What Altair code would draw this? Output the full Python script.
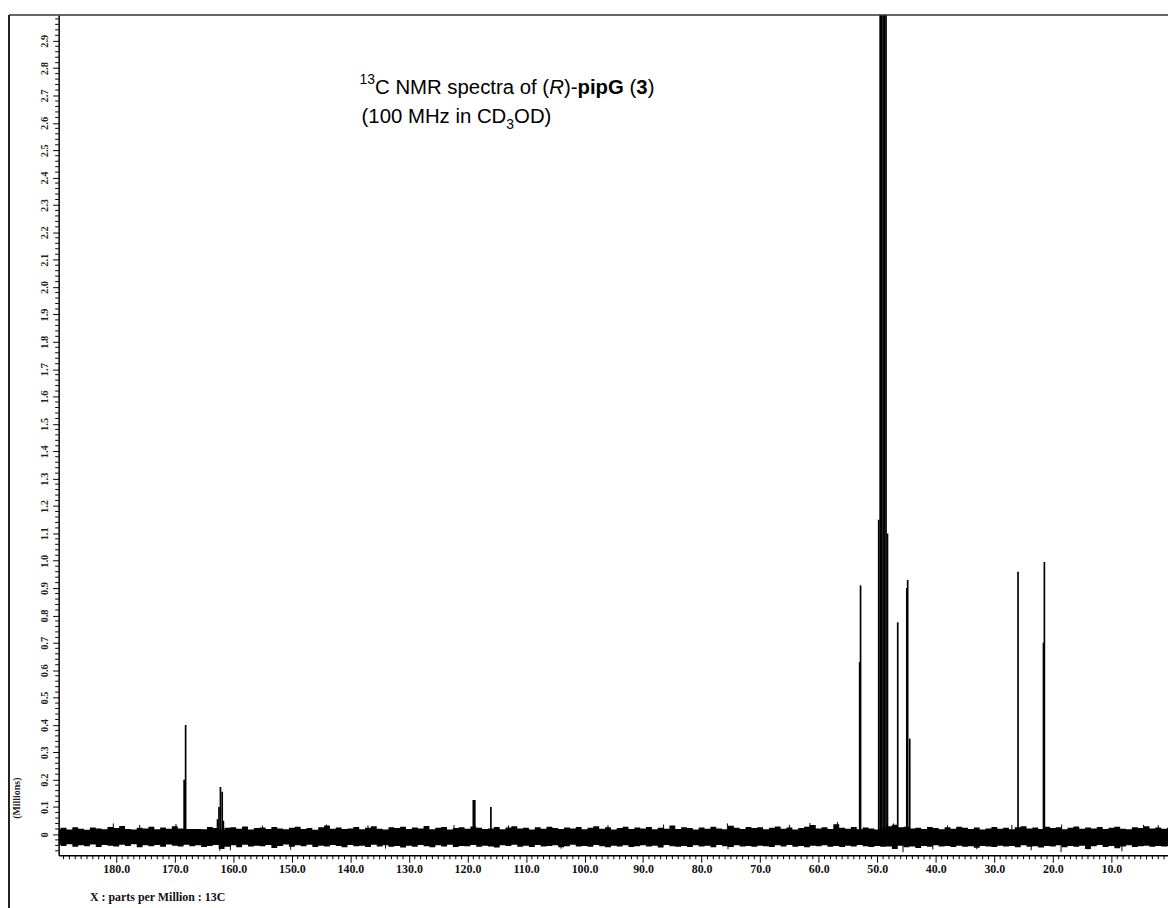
import altair as alt
import pandas as pd

# ---------------- data ----------------
# stick peaks: chemical shift (ppm) and intensity (Millions)
peak_ppm = [168.4, 168.15, 162.7, 162.45, 162.2, 161.9, 161.7,
            119.0, 118.75, 116.0,
            53.0, 52.85,
            49.75, 49.5, 49.25, 49.0, 48.75, 48.5, 48.25,
            46.5, 44.95, 44.8, 44.45, 25.95, 21.6, 21.45]
peak_int = [0.20, 0.40, 0.055, 0.10, 0.173, 0.156, 0.05,
            0.126, 0.126, 0.10,
            0.63, 0.91,
            1.15, 3.6, 6.5, 7.6, 6.5, 3.6, 1.10,
            0.775, 0.90, 0.93, 0.35, 0.96, 0.70, 0.995]

# baseline noise envelope, sampled every 1 ppm from 190 down to 0 (thousandths of a Million)
noise_ppm = [190 - i for i in range(191)]
noise_hi = [20, 24, 18, 26, 21, 17, 25, 22, 19, 27,
            23, 31, 20, 18, 24, 22, 28, 19, 25, 21,
            30, 22, 20, 20, 20, 19, 27, 23, 18, 24,
            26, 21, 29, 18, 23, 25, 20, 27, 22, 19,
            24, 28, 20, 23, 17, 26, 33, 21, 25, 20,
            22, 27, 19, 24, 30, 21, 18, 26, 23, 28,
            20, 25, 22, 31, 19, 24, 27, 18, 23, 26,
            21, 29, 24, 20, 22, 27, 19, 25, 30, 22,
            24, 18, 26, 21, 28, 23, 20, 25, 22, 27,
            19, 24, 30, 21, 26, 18, 23, 28, 20, 25,
            22, 27, 19, 24, 21, 33, 20, 26, 23, 18,
            25, 21, 28, 22, 19, 32, 24, 20, 27, 23,
            26, 19, 24, 29, 21, 25, 18, 23, 28, 34,
            22, 26, 20, 37, 24, 21, 27, 19, 25, 22,
            18, 22, 30, 35, 26, 28, 22, 24, 20, 27,
            23, 19, 26, 21, 28, 24, 20, 25, 18, 22,
            27, 21, 24, 19, 26, 30, 22, 25, 20, 28,
            23, 26, 19, 24, 29, 21, 25, 22, 27, 20,
            24, 28, 21, 19, 26, 23, 30, 22, 25, 21,
            24]
noise_lo = [38, 42, 36, 45, 40, 43, 37, 46, 39, 41,
            44, 38, 42, 36, 47, 40, 43, 39, 45, 37,
            41, 44, 38, 43, 40, 46, 42, 39, 53, 45,
            40, 47, 38, 44, 41, 43, 39, 50, 42, 37,
            45, 40, 43, 38, 46, 41, 44, 39, 42, 47,
            39, 43, 41, 46, 38, 44, 40, 45, 42, 48,
            41, 45, 39, 43, 47, 40, 44, 38, 46, 42,
            43, 39, 45, 41, 44, 48, 40, 42, 38, 45,
            41, 46, 39, 44, 42, 40, 47, 43, 38, 44,
            42, 45, 39, 43, 47, 41, 44, 40, 46, 43,
            40, 44, 41, 48, 39, 43, 45, 42, 46, 40,
            44, 41, 47, 39, 43, 46, 40, 44, 42, 45,
            41, 43, 46, 40, 44, 39, 45, 42, 47, 41,
            43, 40, 45, 42, 46, 41, 44, 39, 43, 46,
            42, 45, 44, 53, 41, 47, 44, 50, 42, 45,
            40, 44, 42, 46, 41, 45, 43, 49, 42, 44,
            46, 41, 44, 42, 47, 40, 45, 43, 48, 42,
            44, 40, 47, 42, 45, 41, 53, 43, 39, 46,
            42, 51, 44, 40, 46, 43, 41, 45, 42, 44,
            43]

# isolated noise spikes (ppm, Millions)
spike_ppm = [180.5, 176.0, 169.8, 155.0, 144.1, 137.0, 122.3, 113.0, 96.0, 86.5,
             75.6, 65.0, 61.5, 56.8, 47.2, 38.0, 27.0, 18.5, 4.5, 2.0,
             162.3, 160.5, 150.2, 134.0, 104.0, 75.5, 45.6, 40.5, 33.0, 23.7,
             18.6, 14.0, 8.2]
spike_int = [0.040, 0.035, 0.038, 0.032, 0.036, 0.033, 0.034, 0.033, 0.034, 0.036,
             0.040, 0.035, 0.042, 0.045, 0.040, 0.033, 0.035, 0.036, 0.035, 0.034,
             -0.060, -0.058, -0.056, -0.052, -0.052, -0.054, -0.065, -0.055, -0.054, -0.058,
             -0.065, -0.055, -0.062]

# axis tick values (major = labelled)
x_major = [10, 20, 30, 40, 50, 60, 70, 80, 90, 100, 110, 120, 130, 140, 150, 160, 170, 180]
y_major = [0.0, 0.1, 0.2, 0.3, 0.4, 0.5, 0.6, 0.7, 0.8, 0.9, 1.0, 1.1, 1.2, 1.3, 1.4,
           1.5, 1.6, 1.7, 1.8, 1.9, 2.0, 2.1, 2.2, 2.3, 2.4, 2.5, 2.6, 2.7, 2.8, 2.9]

x_title = "X : parts per Million : 13C"
y_title = "(Millions)"

# ---------------- layout ----------------
W, H = 1117, 846
X_DOMAIN = [189.84, 0.33]
Y_DOMAIN = [-0.0762, 2.994]
SERIF = "Liberation Serif"
SANS = "Liberation Sans"

x_minor = [v for v in range(1, 190) if v % 10 != 0]
y_minor = [round(-0.06 + 0.02 * i, 2) for i in range(153) if (i - 3) % 5 != 0]

peaks_df = pd.DataFrame({"ppm": peak_ppm, "inten": peak_int})
noise_df = pd.DataFrame({"ppm": noise_ppm,
                         "hi": [v / 1000 for v in noise_hi],
                         "lo": [-v / 1000 for v in noise_lo]})
spike_df = pd.DataFrame({"ppm": spike_ppm, "inten": spike_int})
xminor_df = pd.DataFrame({"ppm": x_minor})
yminor_df = pd.DataFrame({"inten": y_minor})
one = pd.DataFrame({"k": [0]})

xs = alt.Scale(domain=X_DOMAIN, nice=False, zero=False)
ys = alt.Scale(domain=Y_DOMAIN, nice=False, zero=False, clamp=True)

x_axis = alt.Axis(
    values=x_major, format=".1f",
    tickSize=7, tickColor="black", tickWidth=1,
    domainColor="black", domainWidth=1.5,
    labelFont=SERIF, labelFontSize=12, labelFontWeight="bold", labelColor="#111",
    labelPadding=1, labelOverlap=False, labelFlush=False, grid=False,
    title=x_title, titleFont=SERIF, titleFontSize=12, titleFontWeight="bold",
    titleColor="#111", titleX=31, titleY=42, titleAlign="left",
    titleAnchor="start", titleBaseline="middle",
)

y_axis = alt.Axis(
    values=y_major,
    labelExpr="datum.value == 0 ? '0' : format(datum.value, '.1f')",
    tickSize=6, tickColor="black", tickWidth=1,
    domainColor="black", domainWidth=1.5,
    labelFont=SERIF, labelFontSize=10.5, labelFontWeight="bold", labelColor="#222",
    labelAngle=270, labelAlign="center", labelBaseline="bottom",
    labelPadding=3, labelOverlap=False, labelFlush=False, grid=False,
    title=y_title, titleFont=SERIF, titleFontSize=10, titleFontWeight="bold",
    titleColor="#222", titleAngle=270, titleX=-42, titleY=788,
    titleAlign="center", titleBaseline="middle",
)


def X(field):
    return alt.X(field, type="quantitative", scale=xs, axis=x_axis)


def Y(field):
    return alt.Y(field, type="quantitative", scale=ys, axis=y_axis)


band = alt.Chart(noise_df).mark_area(interpolate="step", color="black", clip=True).encode(
    x=X("ppm"), y=Y("lo"), y2="hi:Q",
)

spikes = alt.Chart(spike_df).mark_rule(color="black", strokeWidth=1, clip=True).encode(
    x=X("ppm"), y=Y("inten"), y2=alt.datum(-0.01),
)

peaks = alt.Chart(peaks_df).mark_rule(color="black", strokeWidth=1.7, clip=True).encode(
    x=X("ppm"), y=Y("inten"), y2=alt.datum(0),
)

# minor ticks (through the same scales)
xminor = alt.Chart(xminor_df).mark_rule(color="black", strokeWidth=1).encode(
    x=X("ppm"), y=alt.value(H), y2=alt.value(H + 4),
)
yminor = alt.Chart(yminor_df).mark_rule(color="black", strokeWidth=1).encode(
    y=Y("inten"), x=alt.value(0), x2=alt.value(-3.5),
)

# outer frame (left and top border of the original figure)
frame_left = alt.Chart(one).mark_rule(color="#222", strokeWidth=2).encode(
    x=alt.value(-50), y=alt.value(0), y2=alt.value(900))
frame_top = alt.Chart(one).mark_rule(color="#333", strokeWidth=1.5).encode(
    x=alt.value(-50), x2=alt.value(W), y=alt.value(0))

# ---------------- annotation (rich text built from segments) ----------------
REG = {'C': 722, ' ': 278, 'N': 722, 'M': 833, 'R': 722, 's': 500, 'p': 556, 'e': 556,
       'c': 500, 't': 278, 'r': 333, 'a': 556, 'o': 556, 'f': 278, '(': 333, ')': 333,
       '-': 333, '1': 556, '0': 556, 'H': 722, 'z': 500, 'i': 222, 'n': 556, 'D': 722,
       'O': 778, '3': 556}
BOLD = {'p': 611, 'i': 278, 'G': 778, '3': 556}


def seg_width(s, size, bold=False):
    tbl = BOLD if bold else REG
    return sum(tbl.get(ch, REG.get(ch, 556)) for ch in s) * size / 1000.0


F = 20.5
SUB = 14
ORG_X, ORG_Y = 59, 12  # page position of plot origin

# (text, size, style, weight, baseline shift, gap before)
line1 = [("13", SUB, "normal", "normal", -10, 0),
         ("C NMR spectra of (", F, "normal", "normal", 0, 0),
         ("R", F, "italic", "normal", 0, 0),
         (")-", F, "normal", "normal", 0, 0),
         ("pipG", F, "normal", "bold", 0, 0),
         ("(", F, "normal", "normal", 0, seg_width(" ", F)),
         ("3", F, "normal", "bold", 0, 0),
         (")", F, "normal", "normal", 0, 0)]
line2 = [("(100 MHz in CD", F, "normal", "normal", 0, 0),
         ("3", SUB, "normal", "normal", 6, 0),
         ("OD)", F, "normal", "normal", 0, 0)]

texts = []
for segs, x0, base in [(line1, 362, 91), (line2, 364, 121)]:
    xcur = x0 - ORG_X
    for s, size, style, weight, dy, gap in segs:
        xcur += gap
        t = alt.Chart(one).mark_text(
            align="left", baseline="alphabetic", font=SANS, fontSize=size,
            fontStyle=style, fontWeight=weight, color="black",
        ).encode(x=alt.value(xcur), y=alt.value(base - ORG_Y + dy), text=alt.value(s))
        texts.append(t)
        xcur += seg_width(s, size, weight == "bold")

chart = alt.layer(band, spikes, peaks, xminor, yminor, frame_left, frame_top, *texts).properties(
    width=W, height=H,
    autosize=alt.AutoSizeParams(type="none"),
    padding={"left": 51, "top": 4, "right": 0, "bottom": 50},
    background="white",
).configure_view(stroke=None)

chart.save("out.html", embed_options={"renderer": "svg", "actions": False})
